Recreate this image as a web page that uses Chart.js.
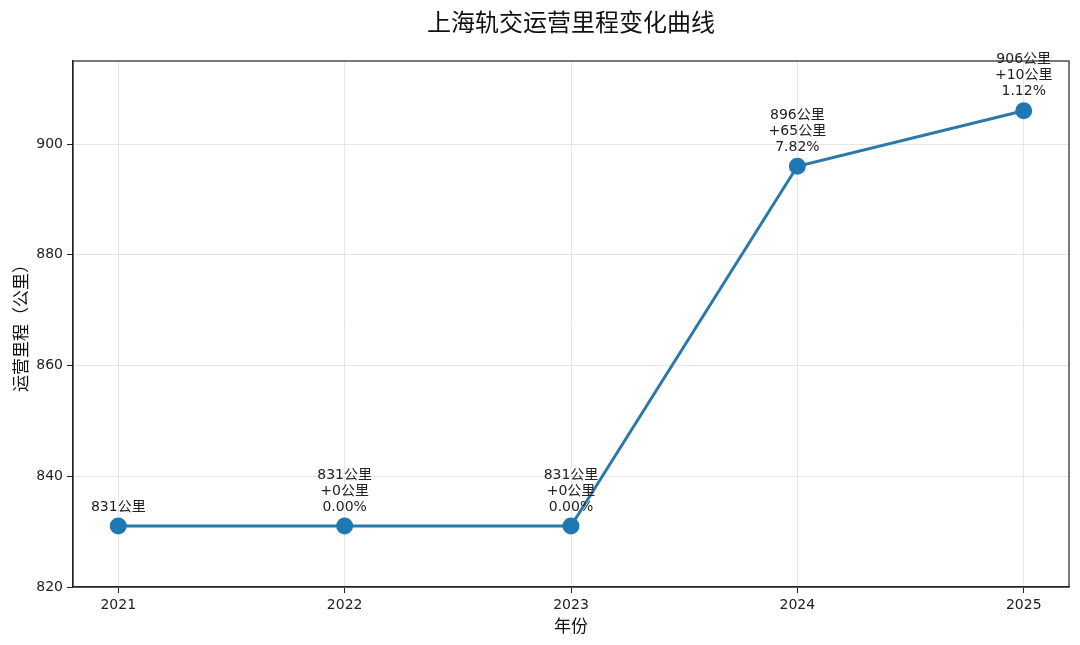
<!DOCTYPE html>
<html lang="zh">
<head>
  <meta charset="UTF-8" />
  <title>上海轨交运营里程变化曲线</title>
  <script src="https://cdn.jsdelivr.net/npm/chart.js"></script>
  <style>
    html, body { margin: 0; padding: 0; background: #fff; }
    #wrap { width: 1080px; height: 645px; }
  </style>
</head>
<body>
  <div id="wrap"><canvas id="lineChart" width="1080" height="645"></canvas></div>
  <script>
    const FONT = '"DejaVu Sans", "Noto Sans CJK SC", sans-serif';
    const CJK = '"Noto Sans CJK SC", sans-serif';

    const years = [2021, 2022, 2023, 2024, 2025];
    const mileage = [831, 831, 831, 896, 906];
    const deltaLabels = ['', '+0公里', '+0公里', '+65公里', '+10公里'];
    const pctLabels = ['', '0.00%', '0.00%', '7.82%', '1.12%'];
    const yTicks = [820, 840, 860, 880, 900];
    const chartTitle = '上海轨交运营里程变化曲线';

    // point annotations above each marker
    const pointLabels = {
      id: 'pointLabels',
      afterDatasetsDraw(chart) {
        const ctx = chart.ctx;
        const meta = chart.getDatasetMeta(0);
        ctx.save();
        ctx.font = '14px ' + FONT;
        ctx.fillStyle = '#222';
        ctx.textAlign = 'center';
        ctx.textBaseline = 'middle';
        meta.data.forEach((pt, i) => {
          const lines = [mileage[i] + '公里', deltaLabels[i], pctLabels[i]].filter(s => s);
          const n = lines.length;
          lines.forEach((s, j) => {
            ctx.fillText(s, pt.x, pt.y - 19 - (n - 1 - j) * 16);
          });
        });
        ctx.restore();
      }
    };

    // frame around plot area + title centred over it
    const frame = {
      id: 'frame',
      afterDraw(chart) {
        const a = chart.chartArea;
        const ctx = chart.ctx;
        ctx.save();
        ctx.strokeStyle = '#222';
        ctx.lineWidth = 1.2;
        ctx.strokeRect(a.left, a.top, a.right - a.left, a.bottom - a.top);
        ctx.font = '24px ' + CJK;
        ctx.fillStyle = '#111';
        ctx.textAlign = 'center';
        ctx.textBaseline = 'middle';
        ctx.fillText(chartTitle, (a.left + a.right) / 2, 22);
        ctx.restore();
      }
    };

    new Chart(document.getElementById('lineChart'), {
      type: 'line',
      data: {
        datasets: [{
          data: years.map((y, i) => ({ x: y, y: mileage[i] })),
          borderColor: '#2b79a9',
          backgroundColor: '#1f77b4',
          pointBackgroundColor: '#1f77b4',
          pointBorderColor: '#1f77b4',
          borderWidth: 3,
          pointRadius: 7,
          tension: 0
        }]
      },
      options: {
        responsive: false,
        animation: false,
        layout: { padding: { left: 0, right: 11, top: 61, bottom: 0 } },
        plugins: {
          legend: { display: false },
          tooltip: { enabled: false },
          title: { display: false }
        },
        scales: {
          x: {
            type: 'linear',
            min: 2020.8,
            max: 2025.2,
            afterBuildTicks: s => { s.ticks = years.map(v => ({ value: v })); },
            afterFit: s => { s.height = 58; },
            ticks: {
              color: '#222',
              font: { family: FONT, size: 14 },
              padding: 4,
              callback: v => String(v)
            },
            grid: { color: '#e6e6e6', tickColor: '#222', tickLength: 6 },
            border: { display: true, color: '#222', width: 1.2 },
            title: {
              display: true,
              text: '年份',
              color: '#111',
              font: { family: CJK, size: 17 },
              padding: { top: 0, bottom: 9 }
            }
          },
          y: {
            min: 820,
            max: 915,
            afterBuildTicks: s => { s.ticks = yTicks.map(v => ({ value: v })); },
            afterFit: s => { s.width = 73; },
            ticks: {
              color: '#222',
              font: { family: FONT, size: 14 },
              padding: 4
            },
            grid: { color: '#e6e6e6', tickColor: '#222', tickLength: 6 },
            border: { display: true, color: '#222', width: 1.2 },
            title: {
              display: true,
              text: '运营里程（公里）',
              color: '#111',
              font: { family: CJK, size: 17 },
              padding: { top: 10, bottom: 4 }
            }
          }
        }
      },
      plugins: [pointLabels, frame]
    });
  </script>
</body>
</html>
